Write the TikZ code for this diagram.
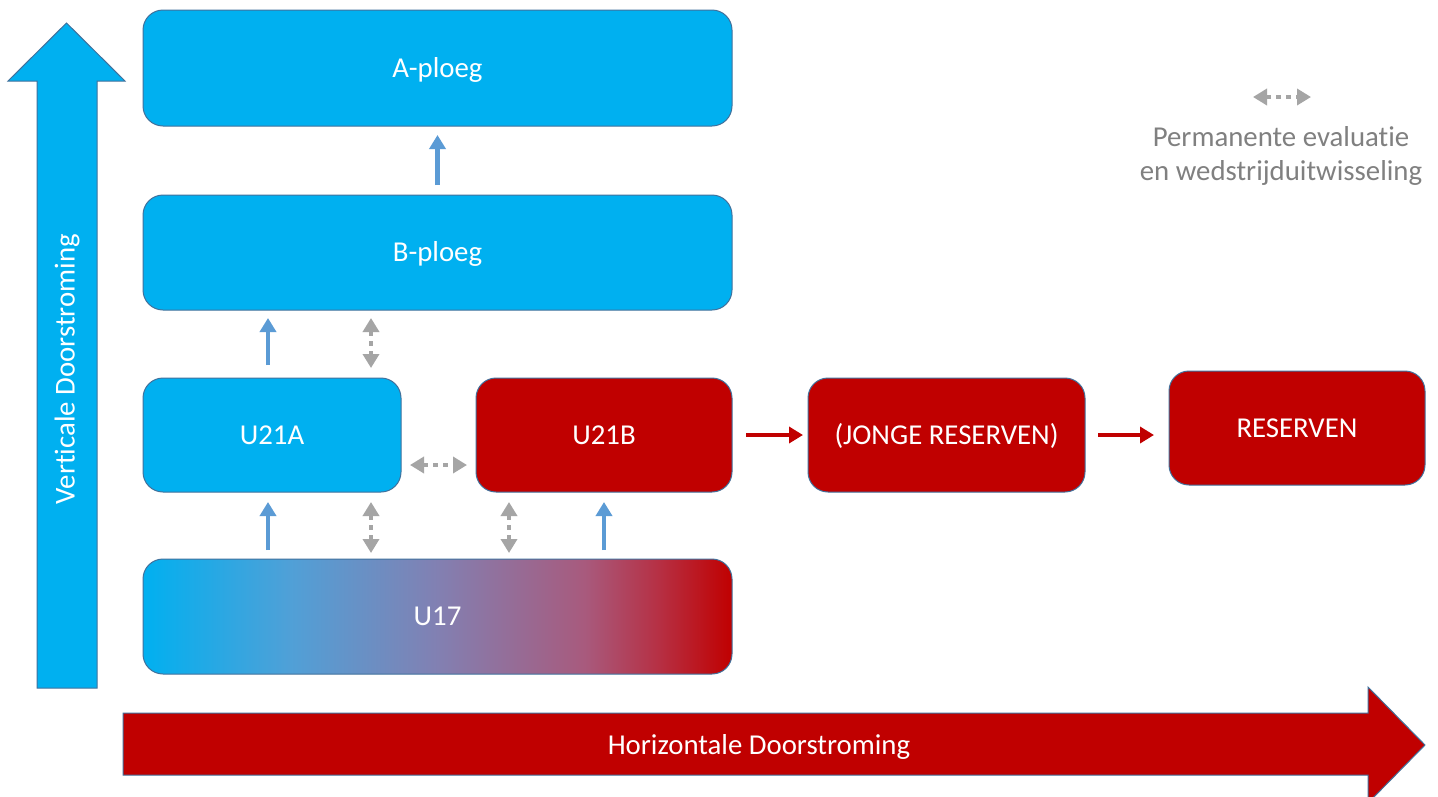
\documentclass[tikz,border=0pt]{standalone}
\usepackage{fontspec}
\setmainfont{Carlito}[RawFeature={-liga;-clig;-calt;-dlig}]
\usetikzlibrary{arrows.meta}
\definecolor{boxblue}{RGB}{0,176,240}
\definecolor{boxred}{RGB}{192,0,0}
\definecolor{edgeblue}{RGB}{65,113,156}
\definecolor{arrblue}{RGB}{91,155,213}
\definecolor{arrgray}{RGB}{165,165,165}
\definecolor{txtgray}{RGB}{128,128,128}
\definecolor{mixa}{RGB}{80,160,215}
\definecolor{mixb}{RGB}{130,128,178}
\definecolor{mixc}{RGB}{168,90,125}
\definecolor{mixd}{RGB}{182,48,68}
\pgfdeclarehorizontalshading{ublend}{100bp}{color(0bp)=(boxblue); color(25bp)=(boxblue); color(37.5bp)=(mixa); color(50bp)=(mixb); color(62.5bp)=(mixc); color(68.75bp)=(mixd); color(75bp)=(boxred); color(100bp)=(boxred)}
\tikzset{
  bigfont/.style={font=\fontsize{28.8}{34}\selectfont},
  teambox/.style={draw=edgeblue, line width=1pt, rounded corners=20pt, inner sep=0pt, outer sep=0pt, text=white, bigfont, text height=21pt, text depth=3pt},
  bluebox/.style={teambox, fill=boxblue},
  redbox/.style={teambox, fill=boxred},
  blendbox/.style={teambox, shading=ublend},
  bluearr/.style={draw=arrblue, line width=4.5pt, -{Triangle[width=16pt,length=14pt]}},
  redarr/.style={draw=boxred, line width=4pt, -{Triangle[width=16pt,length=14pt]}},
  grayarr/.style={draw=arrgray, line width=4.5pt, dash pattern=on 5pt off 5pt, {Triangle[width=16pt,length=14pt]}-{Triangle[width=16pt,length=14pt]}},
  bigarrow/.style={draw=edgeblue, line width=1pt},
  arrlabel/.style={text=white, bigfont, inner sep=0pt},
}
\begin{document}
\begin{tikzpicture}[x=1pt, y=-1pt]
\path[use as bounding box] (0,0) rectangle (1438,796);
\clip (0,0) rectangle (1438,796);
\fill[white] (0,0) rectangle (1438,796);

% big arrows
\path[bigarrow, fill=boxblue] (37,688) -- (37,81) -- (8,81) -- (66.5,23) -- (125,81) -- (97,81) -- (97,688) -- cycle;
\path[bigarrow, fill=boxred] (123,713) -- (1368,713) -- (1368,687) -- (1425,745) -- (1368,803) -- (1368,775) -- (123,775) -- cycle;
\node[arrlabel, rotate=90] (vlabel) at (67,369) {Vert\kern0pt icale Doorstroming};
\node[arrlabel] (hlabel) at (759,747) {Horizontale Doorstroming};

% boxes
\node[bluebox, minimum width=589pt, minimum height=116pt] (aploeg) at (437.5,68) {A-ploeg};
\node[bluebox, minimum width=589pt, minimum height=115pt] (bploeg) at (437.5,252.5) {B-ploeg};
\node[bluebox, minimum width=258pt, minimum height=114pt] (u21a) at (272,435) {U21A};
\node[redbox, minimum width=256pt, minimum height=114pt] (u21b) at (604,435) {U21B};
\node[redbox, minimum width=277pt, minimum height=114pt] (jonge) at (946.5,435) {(JONGE RESERVEN)};
\node[redbox, minimum width=256pt, minimum height=114pt] (reserven) at (1297,428) {RESERVEN};
\node[blendbox, minimum width=589pt, minimum height=115pt] (u17) at (437.5,616.5) {U17};

% x positions of connectors
\coordinate (xa) at (268,0);
\coordinate (xb) at (371,0);
\coordinate (xc) at (509,0);
\coordinate (xd) at (604,0);
\coordinate (ym) at (0,465);

% blue arrows
\draw[bluearr, shorten <=10pt, shorten >=9pt] (bploeg.north) -- (aploeg.south);
\draw[bluearr, shorten <=13pt, shorten >=8pt] (xa |- u21a.north) -- (xa |- bploeg.south);
\draw[bluearr, shorten <=9pt, shorten >=10pt] (xa |- u17.north) -- (xa |- u21a.south);
\draw[bluearr, shorten <=9pt, shorten >=10pt] (xd |- u17.north) -- (xd |- u21b.south);

% gray exchange arrows
\draw[grayarr, shorten <=8pt, shorten >=10pt] (xb |- bploeg.south) -- (xb |- u21a.north);
\draw[grayarr, shorten <=10pt, shorten >=6pt] (xb |- u21a.south) -- (xb |- u17.north);
\draw[grayarr, shorten <=10pt, shorten >=6pt] (xc |- u21b.south) -- (xc |- u17.north);
\draw[grayarr, shorten <=9pt, shorten >=9pt] (u21a.east |- ym) -- (u21b.west |- ym);

% red arrows
\draw[redarr, shorten <=14pt, shorten >=5pt] (u21b.east) -- (jonge.west);
\draw[redarr, shorten <=13pt, shorten >=15pt] (jonge.east) -- (jonge.east -| reserven.west);

% legend
\coordinate (lga) at (1253,97);
\coordinate (lgb) at (1311,97);
\draw[grayarr] (lga) -- (lgb);
\node[bigfont, text=txtgray, align=center, inner sep=0pt] (legend) at (1281,156) {Permanente evaluat\kern0pt ie\\en wedstrijduitwisseling};
\end{tikzpicture}
\end{document}
